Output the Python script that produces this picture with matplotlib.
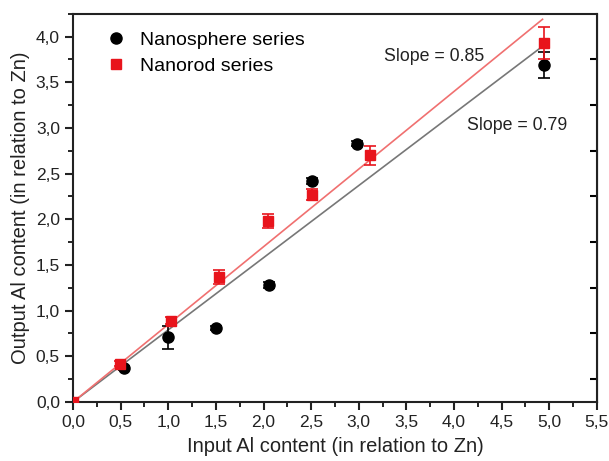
import numpy as np
import matplotlib.pyplot as plt
from matplotlib.lines import Line2D
from matplotlib.ticker import FuncFormatter, MultipleLocator

plt.rcParams['font.family'] = ['Liberation Sans', 'DejaVu Sans']

# Nanosphere series (black circles)
sphere_x = [0.53, 1.0, 1.5, 2.06, 2.51, 2.98, 4.95]
sphere_y = [0.37, 0.71, 0.81, 1.28, 2.42, 2.83, 3.69]
sphere_err = [0.02, 0.125, 0.02, 0.03, 0.03, 0.03, 0.14]

# Nanorod series (red squares)
rod_x = [0.0, 0.49, 1.03, 1.53, 2.05, 2.51, 3.12, 4.95]
rod_y = [0.0, 0.42, 0.89, 1.37, 1.98, 2.27, 2.70, 3.93]
rod_err = [0.0, 0.03, 0.04, 0.075, 0.08, 0.06, 0.10, 0.175]

# linear fits through the origin
slope_sphere = 0.79
slope_rod = 0.85
fit_x = np.array([0.0, 4.93])

xticks = np.arange(0, 5.51, 0.5)
yticks = np.arange(0, 4.01, 0.5)

red = '#e8141c'
ink = '#222222'

fig = plt.figure(figsize=(6.09, 4.61), dpi=100)
ax = fig.add_axes([0.12, 0.128, 0.86, 0.842])

ax.plot(fit_x, slope_sphere * fit_x, color='#777777', lw=1.2, zorder=2)
ax.plot(fit_x, slope_rod * fit_x, color='#f07070', lw=1.2, zorder=2)

ax.errorbar(sphere_x, sphere_y, yerr=sphere_err, fmt='o', color='black',
            ms=8, capsize=4, elinewidth=1.2, capthick=1.2, zorder=4)
ax.errorbar(rod_x, rod_y, yerr=rod_err, fmt='s', color=red,
            ms=6.5, capsize=4, elinewidth=1.2, capthick=1.2, zorder=5)

ax.set_xlim(0, 5.5)
ax.set_ylim(0, 4.25)
ax.set_xticks(xticks)
ax.set_yticks(yticks)
ax.xaxis.set_minor_locator(MultipleLocator(0.25))
ax.yaxis.set_minor_locator(MultipleLocator(0.25))
comma = FuncFormatter(lambda v, p: f'{v:.1f}'.replace('.', ','))
ax.xaxis.set_major_formatter(comma)
ax.yaxis.set_major_formatter(comma)
ax.tick_params(which='major', direction='out', length=6, width=1.5, labelsize=12.5, colors=ink)
ax.tick_params(which='minor', direction='out', length=3.5, width=1.2)

for spine in ax.spines.values():
    spine.set_linewidth(1.5)
    spine.set_color(ink)

# inward ticks on the right spine
sec = ax.secondary_yaxis('right')
sec.set_yticks(np.arange(0.25, 4.1, 0.5))
sec.tick_params(direction='in', length=5, width=1.5, labelright=False)

ax.set_xlabel('Input Al content (in relation to Zn)', fontsize=14.5, labelpad=5, color=ink)
ax.set_ylabel('Output Al content (in relation to Zn)', fontsize=14.5, labelpad=4, color=ink)

ax.text(3.27, 3.78, 'Slope = 0.85', fontsize=12.8, va='center', color=ink)
ax.text(4.14, 3.03, 'Slope = 0.79', fontsize=12.8, va='center', color=ink)

handles = [
    Line2D([], [], ls='none', marker='o', color='black', ms=8),
    Line2D([], [], ls='none', marker='s', color=red, ms=6.5),
]
ax.legend(handles, ['Nanosphere series', 'Nanorod series'], loc='upper left',
          bbox_to_anchor=(0.03, 1.0), frameon=False, fontsize=14,
          handletextpad=0.75, labelspacing=0.45, handlelength=1.0)

fig.savefig('out.png', dpi=100)
